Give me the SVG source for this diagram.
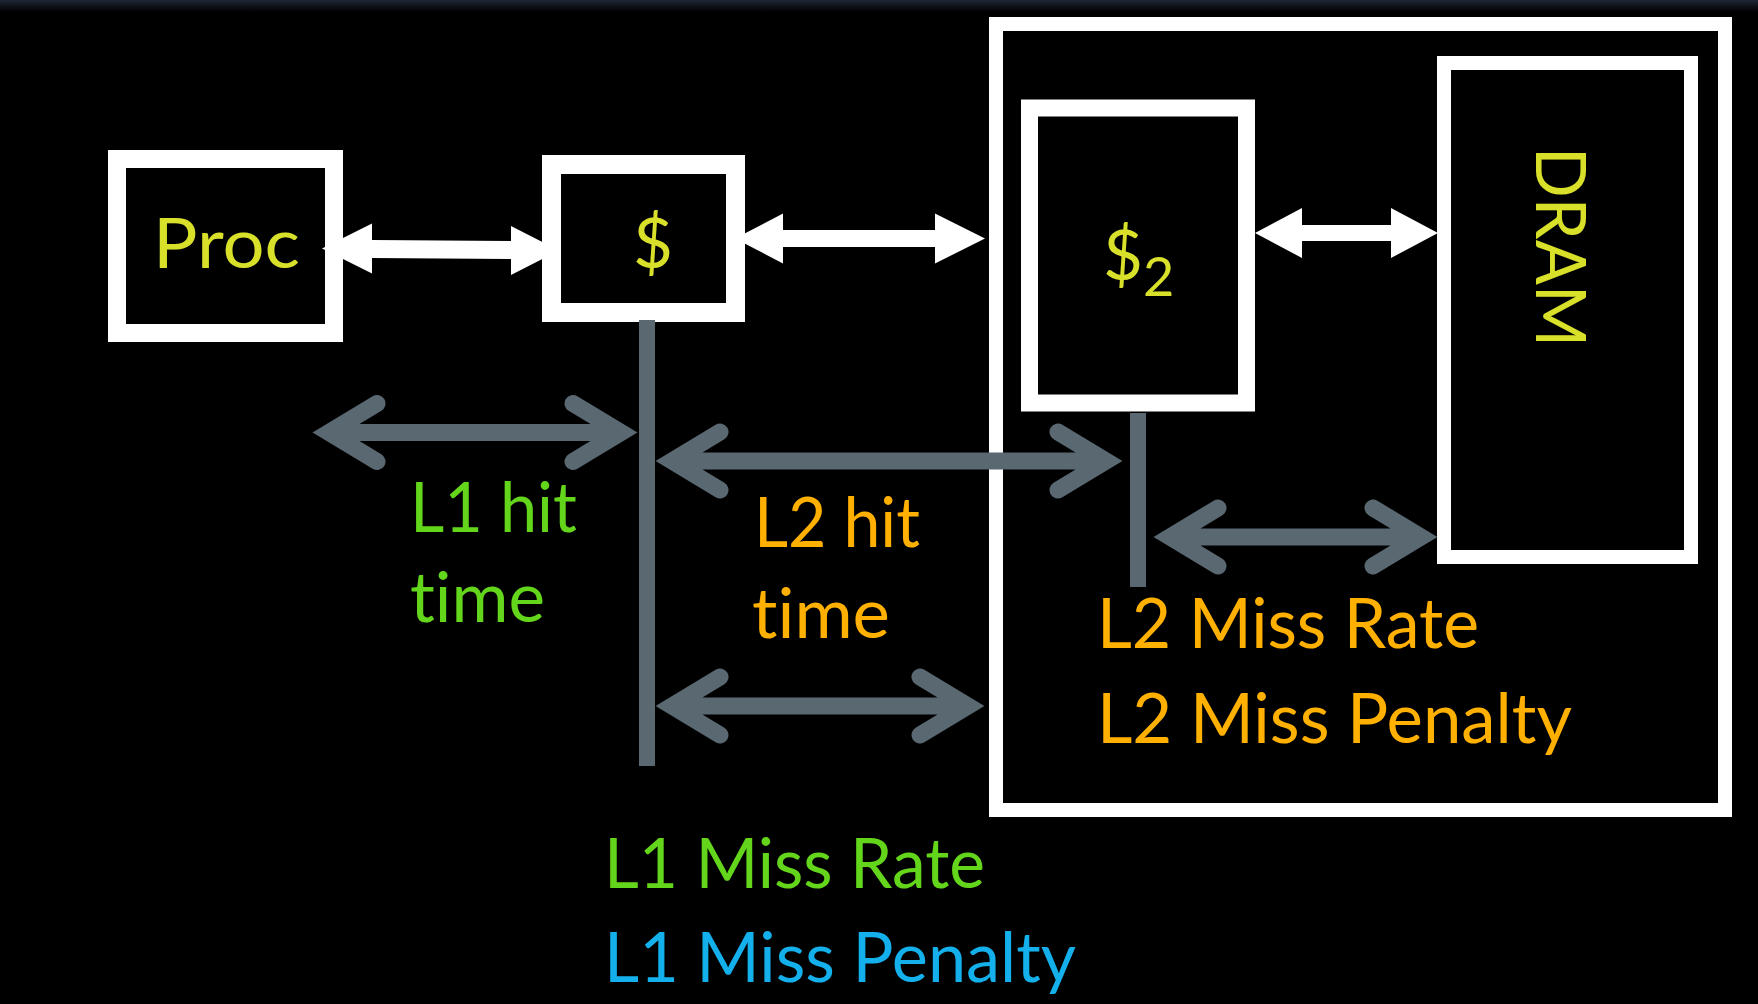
<svg xmlns="http://www.w3.org/2000/svg" width="1758" height="1004" viewBox="0 0 1758 1004">
  <defs>
    <linearGradient id="topShade" x1="0" y1="0" x2="0" y2="1">
      <stop offset="0" stop-color="#1f2636"/>
      <stop offset="1" stop-color="#000000"/>
    </linearGradient>
    <style>
      .box { fill: #000; stroke: #fff; }
      .link { fill: #fff; }
      .span { fill: none; stroke: #5a6872; stroke-width: 17; stroke-linecap: round; stroke-linejoin: miter; }
      .tick { stroke: #5a6872; stroke-width: 16; }
      .lbl { font-family: Lato, "Open Sans", "Liberation Sans", sans-serif; font-size: 69px;
             font-variant-ligatures: none; font-feature-settings: "liga" 0, "clig" 0; }
      .unit { fill: #d8e02a; }
      .l1 { fill: #63d51b; }
      .l2 { fill: #ffb000; }
      .pen { fill: #14b0ec; }
    </style>
  </defs>

  <!-- backdrop -->
  <rect x="0" y="0" width="1758" height="1004" fill="#000"/>
  <rect x="0" y="0" width="1758" height="12" fill="url(#topShade)"/>

  <!-- memory side: L2 cache + DRAM -->
  <g id="memory-side">
    <rect class="box" x="996" y="24" width="729" height="786" stroke-width="14"/>
  </g>

  <g id="proc">
    <rect class="box" x="117" y="159" width="217" height="174" stroke-width="18"/>
    <text class="lbl unit" x="153" y="268" textLength="147" lengthAdjust="spacingAndGlyphs">Proc</text>
  </g>

  <g id="l1-cache">
    <rect class="box" x="551.5" y="164.5" width="184" height="148" stroke-width="19"/>
    <text class="lbl unit" x="653" y="268" text-anchor="middle" font-size="72">$</text>
  </g>

  <g id="l2-cache">
    <rect class="box" x="1029.5" y="108" width="217" height="295" stroke-width="17"/>
    <text class="lbl unit" x="1103" y="280" font-size="72">$<tspan font-size="54" dy="16">2</tspan></text>
  </g>

  <g id="dram">
    <rect class="box" x="1444" y="63" width="247" height="494" stroke-width="14"/>
    <text class="lbl unit" transform="translate(1536,247) rotate(90)" text-anchor="middle" font-size="77" textLength="200" lengthAdjust="spacingAndGlyphs">DRAM</text>
  </g>

  <!-- connectors: white data paths, grey timing spans -->
  <g id="connectors">
    <polygon class="link" points="322,248.5 372,223.5 372,240 511,241 511,226 559,250.5 511,275 511,259 372,258 372,273.5"/>
    <polygon class="link" points="735,238.5 783,213.5 783,230 935,230 935,213.5 985,238.5 935,263.5 935,247 783,247 783,263.5"/>
    <polygon class="link" points="1255,233 1302,208 1302,225 1391,225 1391,208 1438,233 1391,258 1391,241 1302,241 1302,258"/>

    <line class="tick" x1="647" y1="320" x2="647" y2="766"/>
    <line class="tick" x1="1138" y1="413" x2="1138" y2="587"/>

    <path class="span" d="M377,403.5 L329,432.5 L377,461.5 M329,432.5 L621,432.5 M573,403.5 L621,432.5 L573,461.5"/>
    <path class="span" d="M720,432 L672,461 L720,490 M672,461 L1106,461 M1058,432 L1106,461 L1058,490"/>
    <path class="span" d="M720,677 L672,706 L720,735 M672,706 L968,706 M920,677 L968,706 L920,735"/>
    <path class="span" d="M1218,508 L1170,537 L1218,566 M1170,537 L1421,537 M1373,508 L1421,537 L1373,566"/>
  </g>

  <!-- timing labels -->
  <g id="labels">
    <text class="lbl l1" x="410" y="532" textLength="167" lengthAdjust="spacingAndGlyphs">L1 hit</text>
    <text class="lbl l1" x="410" y="622" textLength="135" lengthAdjust="spacingAndGlyphs">time</text>
    <text class="lbl l2" x="754" y="547" textLength="166" lengthAdjust="spacingAndGlyphs">L2 hit</text>
    <text class="lbl l2" x="752" y="638" textLength="138" lengthAdjust="spacingAndGlyphs">time</text>
    <text class="lbl l2" x="1097" y="648" textLength="382" lengthAdjust="spacingAndGlyphs">L2 Miss Rate</text>
    <text class="lbl l2" x="1097" y="743" textLength="475" lengthAdjust="spacingAndGlyphs">L2 Miss Penalty</text>
    <text class="lbl l1" x="604" y="888" textLength="381" lengthAdjust="spacingAndGlyphs">L1 Miss Rate</text>
    <text class="lbl pen" x="604" y="982" textLength="472" lengthAdjust="spacingAndGlyphs">L1 Miss Penalty</text>
  </g>
</svg>
